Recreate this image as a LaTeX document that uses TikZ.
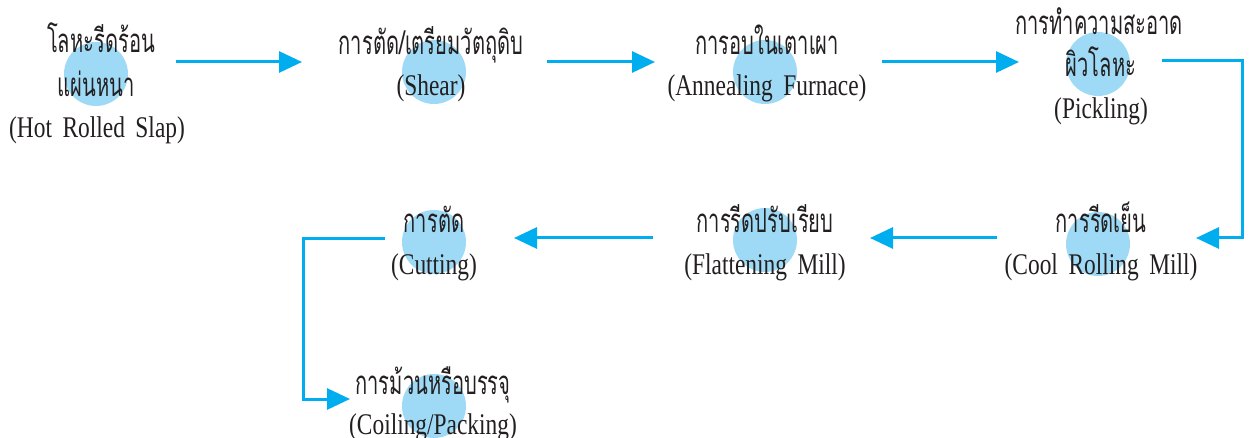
\documentclass[tikz,border=0pt]{standalone}
\usepackage{fontspec}
\setmainfont{Liberation Serif}[FakeStretch=0.78, WordSpace=1.8]
\newfontfamily\thaifont[Script=Thai, FakeStretch=0.61]{Loma}
\usetikzlibrary{arrows.meta}
\definecolor{arrowblue}{RGB}{0,174,239}
\definecolor{dotblue}{RGB}{158,218,245}
\definecolor{txtc}{RGB}{35,31,32}
\tikzset{
  dot/.style={circle, fill=dotblue, minimum size=64pt, inner sep=0pt},
  th/.style={font=\thaifont\fontsize{33}{33}\selectfont, text=txtc, anchor=base, inner sep=0pt},
  en/.style={font=\fontsize{30}{30}\selectfont, text=txtc, anchor=base, inner sep=0pt},
  flow/.style={draw=arrowblue, line width=3pt, -{Triangle[length=23pt,width=21pt]}},
}
\begin{document}
\begin{tikzpicture}[x=1pt,y=-1pt]
\useasboundingbox (0,0) rectangle (1250,438);
% circles
\node[dot] (d1) at (96,74) {};
\node[dot] (d2) at (434,72) {};
\node[dot] (d3) at (765,72) {};
\node[dot] (d4) at (1098,64) {};
\node[dot] (d5) at (1098,244) {};
\node[dot] (d6) at (765,240) {};
\node[dot] (d7) at (434,242) {};
\node[dot] (d8) at (434,406) {};
% texts
\node[th] (t1a) at (101,53) {โลหะรีดร้อน};
\node[th] (t1b) at (96,97) {แผ่นหนา};
\node[en] (t1c) at (97,138) {(Hot Rolled Slap)};
\node[th] (t2a) at (431,55) {การตัด/เตรียมวัตถุดิบ};
\node[en] (t2b) at (431,96) {(Shear)};
\node[th] (t3a) at (767,55) {การอบในเตาเผา};
\node[en] (t3b) at (767,96) {(Annealing Furnace)};
\node[th] (t4a) at (1099,35) {การทำความสะอาด};
\node[th] (t4b) at (1101,77) {ผิวโลหะ};
\node[en] (t4c) at (1101,119) {(Pickling)};
\node[th] (t5a) at (1101,233) {การรีดเย็น};
\node[en] (t5b) at (1101,275) {(Cool Rolling Mill)};
\node[th] (t6a) at (765,233) {การรีดปรับเรียบ};
\node[en] (t6b) at (765,275) {(Flattening Mill)};
\node[th] (t7a) at (434,233) {การตัด};
\node[en] (t7b) at (434,275) {(Cutting)};
\node[th] (t8a) at (433,394) {การม้วนหรือบรรจุ};
\node[en] (t8b) at (433,434) {(Coiling/Packing)};
% connector ends
\coordinate (a1s) at (176,62); \coordinate (a1e) at (302,62);
\coordinate (a2s) at (547,62); \coordinate (a2e) at (655,62);
\coordinate (a3s) at (882,62); \coordinate (a3e) at (1019,62);
\coordinate (a4s) at (1162,61); \coordinate (a4c) at (1242,238); \coordinate (a4e) at (1196,238);
\coordinate (a5s) at (997,238); \coordinate (a5e) at (870,238);
\coordinate (a6s) at (653,238); \coordinate (a6e) at (514,238);
\coordinate (a7s) at (385,239); \coordinate (a7c) at (303,399); \coordinate (a7e) at (350,399);
\draw[flow] (a1s) -- (a1e);
\draw[flow] (a2s) -- (a2e);
\draw[flow] (a3s) -- (a3e);
\draw[flow] (a4s) -| (a4c) -- (a4e);
\draw[flow] (a5s) -- (a5e);
\draw[flow] (a6s) -- (a6e);
\draw[flow] (a7s) -| (a7c) -- (a7e);
\end{tikzpicture}
\end{document}
